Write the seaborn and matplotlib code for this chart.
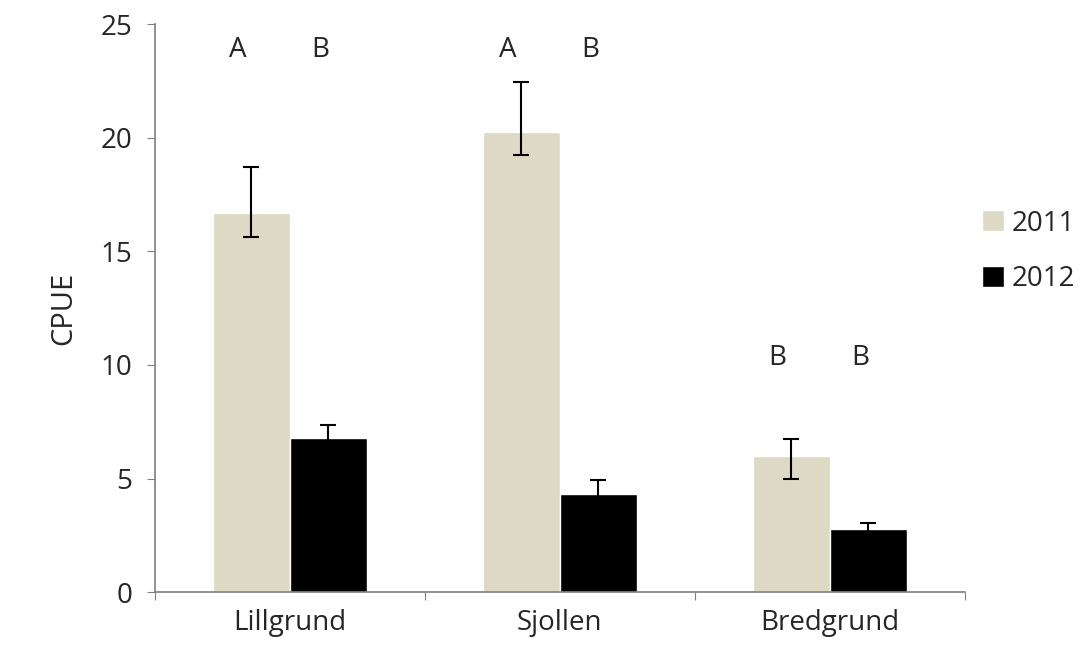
import matplotlib
matplotlib.use("agg")
import matplotlib.pyplot as plt
import seaborn as sns
import pandas as pd
import numpy as np

sites = ["Lillgrund", "Sjollen", "Bredgrund"]
years = ["2011", "2012"]
cpue_2011 = [16.7, 20.25, 6.0]
cpue_2012 = [6.8, 4.3, 2.8]
err_lo_2011 = [1.05, 1.0, 1.0]
err_hi_2011 = [2.0, 2.2, 0.75]
err_lo_2012 = [0.5, 0.65, 0.25]
err_hi_2012 = [0.55, 0.65, 0.25]
letters_2011 = ["A", "A", "B"]
letters_2012 = ["B", "B", "B"]
letter_y = [23.85, 23.85, 10.3]

df = pd.DataFrame({
    "site": sites * 2,
    "year": [years[0]] * 3 + [years[1]] * 3,
    "cpue": cpue_2011 + cpue_2012,
})

sns.set_style("white")
plt.rcParams["font.family"] = ["Open Sans", "DejaVu Sans"]

fig = plt.figure(figsize=(10.9, 6.55), dpi=100)
ax = fig.add_axes([0.142, 0.096, 0.743, 0.867])
sns.barplot(data=df, x="site", y="cpue", hue="year", order=sites, hue_order=years,
            palette=["#ddd9c4", "#000000"], width=0.57, ax=ax, errorbar=None,
            saturation=1)

x = np.arange(len(sites))
off = 0.57 / 4
ax.errorbar(x - off, cpue_2011, yerr=[err_lo_2011, err_hi_2011], fmt="none",
            ecolor="black", elinewidth=1.5, capsize=6, capthick=1.5)
ax.errorbar(x + off, cpue_2012, yerr=[err_lo_2012, err_hi_2012], fmt="none",
            ecolor="black", elinewidth=1.5, capsize=6, capthick=1.5)
for i in range(len(sites)):
    ax.text(x[i] - off - 0.05, letter_y[i], letters_2011[i], ha="center", va="center", fontsize=20)
    ax.text(x[i] + off - 0.03, letter_y[i], letters_2012[i], ha="center", va="center", fontsize=20)

ax.set_xlim(-0.5, 2.5)
ax.set_ylim(0, 25)
ax.set_yticks([0, 5, 10, 15, 20, 25])
ax.set_xticks([-0.5, 0.5, 1.5, 2.5], minor=False)
ax.set_xticklabels([])
ax.set_xticks(x, minor=True)
ax.set_xticklabels(sites, minor=True)
ax.tick_params(axis="x", which="minor", length=0, labelsize=20, pad=12)
ax.tick_params(axis="x", which="major", length=6, direction="out", color="#808080", bottom=True)
ax.tick_params(axis="y", labelsize=20, length=6, direction="out", color="#808080", left=True, pad=10)
ax.set_xlabel("")
ax.set_ylabel("CPUE", fontsize=21, labelpad=16)
sns.despine(ax=ax)
for s in ["left", "bottom"]:
    ax.spines[s].set_color("#808080")
    ax.spines[s].set_linewidth(1.2)

ax.legend(title=None, frameon=False, fontsize=20, loc="center left",
          bbox_to_anchor=(0.99, 0.6), handlelength=0.8, handleheight=0.8,
          labelspacing=1.0, handletextpad=0.3)

fig.savefig("out.png", dpi=100)
